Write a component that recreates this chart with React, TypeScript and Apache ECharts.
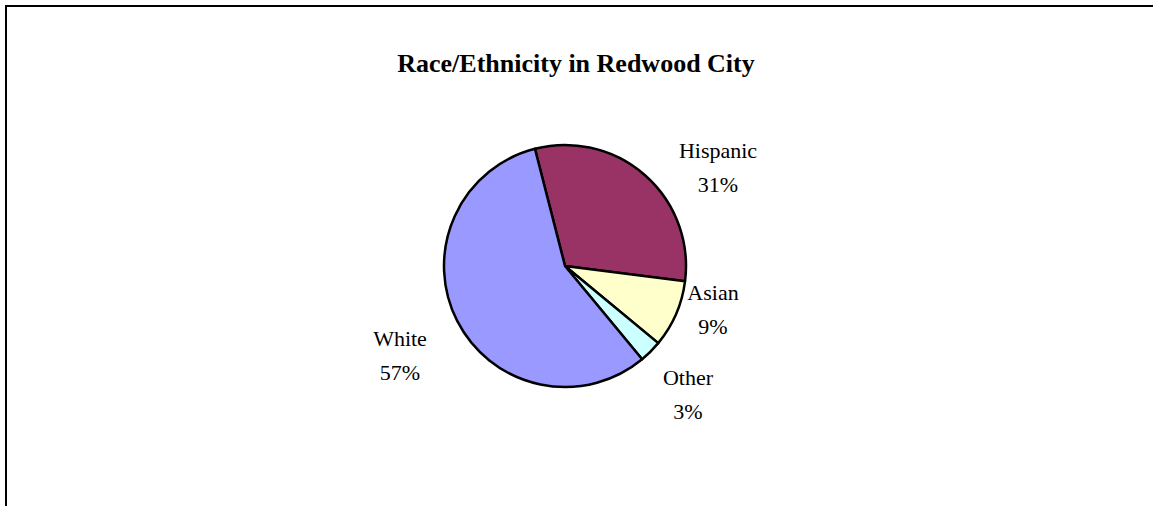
import React, { useEffect, useRef } from "react";
import * as echarts from "echarts";

const TITLE = "Race/Ethnicity in Redwood City";
const categories = ["Hispanic", "Asian", "Other", "White"];
const percents = [31, 9, 3, 57];
const colors = ["#993366", "#FFFFCC", "#CCFFFF", "#9999FF"];
// label anchor offsets relative to pie centre (layout only)
const labelOffsets: [number, number][] = [
  [153, -99],
  [148, 43],
  [123, 128],
  [-165, 89],
];

const FONT = "'Liberation Serif', 'DejaVu Serif', serif";
const CX = 565;
const CY = 266;

export default function App() {
  const ref = useRef<HTMLDivElement>(null);
  useEffect(() => {
    document.body.style.margin = "0";
    const chart = echarts.init(ref.current!, undefined, { renderer: "svg" });
    chart.setOption({
      animation: false,
      backgroundColor: "#ffffff",
      title: {
        text: TITLE,
        left: 571,
        top: 45,
        textAlign: "center",
        textStyle: { fontFamily: FONT, fontWeight: "bold", fontSize: 26, color: "#000" },
      },
      graphic: [
        {
          type: "rect",
          shape: { x: 6, y: 6, width: 1300, height: 700 },
          style: { fill: "none", stroke: "#000", lineWidth: 2 },
          silent: true,
        },
      ],
      series: [
        {
          type: "pie",
          center: [CX, CY],
          radius: 121,
          startAngle: 104.4,
          clockwise: true,
          data: categories.map((c, i) => ({
            name: c,
            value: percents[i],
            itemStyle: { color: colors[i] },
          })),
          itemStyle: { borderColor: "#000", borderWidth: 2.5 },
          label: {
            show: true,
            position: "outside",
            formatter: (p: any) => `${p.name}\n${p.value}%`,
            fontFamily: FONT,
            fontSize: 22,
            lineHeight: 34,
            color: "#000",
            align: "center",
          },
          labelLine: { show: false },
          labelLayout: (p: any) => {
            const o = labelOffsets[p.dataIndex];
            return { x: CX + o[0], y: CY + o[1], align: "center", verticalAlign: "middle" };
          },
        },
      ],
    });
    return () => chart.dispose();
  }, []);
  return <div ref={ref} style={{ width: 1153, height: 506 }} />;
}
